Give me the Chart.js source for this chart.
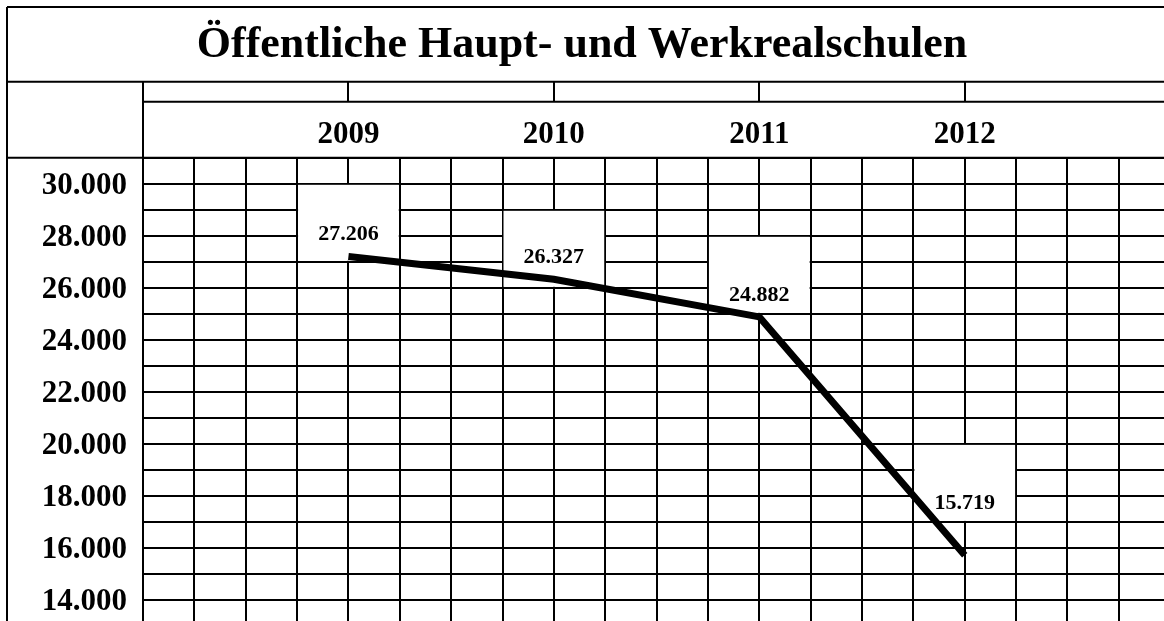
<!DOCTYPE html>
<html>
<head>
<meta charset="utf-8">
<script src="https://cdn.jsdelivr.net/npm/chart.js@4/dist/chart.umd.min.js"></script>
<style>
  body { margin: 0; overflow: hidden; background: #fff; }
  #wrap { position: relative; width: 1164px; height: 621px; }
</style>
</head>
<body>
<div id="wrap"><canvas id="chart"></canvas></div>
<script>
const years = [2009, 2010, 2011, 2012];
const pupils = [27206, 26327, 24882, 15719];
const titleText = 'Öffentliche Haupt- und Werkrealschulen';

const serif = 'Liberation Serif';
const frameInset = 7;
const labelFont = 'bold 22px "' + serif + '"';

function fmt(v) {
    return String(v).replace(/\B(?=(\d{3})+(?!\d))/g, '.');
}

// grid lines on round steps, even though the table is cut off at odd values
function stepTicks(step) {
    return function (scale) {
        const ticks = [];
        const first = Math.ceil(scale.min / step - 1e-9) * step;
        for (let v = first; v <= scale.max + 1e-9; v += step) {
            ticks.push({ value: Math.round(v * 100) / 100 });
        }
        scale.ticks = ticks;
    };
}

// value label above each point, lifted until it clears the line on both sides
function labelBoxes(chart) {
    const ctx = chart.ctx;
    const pts = chart.getDatasetMeta(0).data;
    const xs = chart.scales.x;
    const ys = chart.scales.y;
    const rows = ys.ticks.map(t => ys.getPixelForValue(t.value)).sort((a, b) => a - b);
    ctx.save();
    ctx.font = labelFont;
    const out = pts.map((pt, i) => {
        const text = fmt(pupils[i]);
        const halfW = ctx.measureText(text).width / 2 + 2;
        let lift = 22;
        [pts[i - 1], pts[i + 1]].forEach(nb => {
            if (!nb) return;
            const dx = Math.abs(nb.x - pt.x);
            const edgeY = pt.y + (nb.y - pt.y) * Math.min(1, halfW / dx);
            lift = Math.max(lift, pt.y - (edgeY - 15));
        });
        const ty = pt.y - lift;
        let bi = rows.findIndex(p => p >= ty + 10);
        if (bi < 3) bi = 3;
        return {
            tx: pt.x,
            ty: ty,
            left: xs.getPixelForValue(years[i] - 0.25),
            right: xs.getPixelForValue(years[i] + 0.25),
            top: rows[bi - 3],
            bottom: rows[bi],
            text: text
        };
    });
    ctx.restore();
    return out;
}

const valueLabels = {
    id: 'valueLabels',
    beforeDatasetsDraw(chart) {
        const ctx = chart.ctx;
        ctx.save();
        ctx.fillStyle = '#fff';
        labelBoxes(chart).forEach(b => {
            ctx.fillRect(b.left + 1, b.top + 1, b.right - b.left - 2, b.bottom - b.top - 2);
        });
        ctx.restore();
    },
    afterDatasetsDraw(chart) {
        const ctx = chart.ctx;
        ctx.save();
        ctx.fillStyle = '#000';
        ctx.font = labelFont;
        ctx.textAlign = 'center';
        ctx.textBaseline = 'middle';
        labelBoxes(chart).forEach(b => ctx.fillText(b.text, b.tx, b.ty));
        ctx.restore();
    }
};

// table frame around title, header row and left column
const tableFrame = {
    id: 'tableFrame',
    afterDraw(chart) {
        const ctx = chart.ctx;
        const xs = chart.scales.x;
        const area = chart.chartArea;
        const t = chart.titleBlock;
        const left = frameInset;
        const right = chart.width;
        const sub = xs.top + 20;
        ctx.save();
        ctx.strokeStyle = '#000';
        ctx.lineWidth = 2;
        ctx.beginPath();
        ctx.moveTo(left, t.top); ctx.lineTo(right, t.top);
        ctx.moveTo(left, t.top); ctx.lineTo(left, chart.height);
        ctx.moveTo(left, xs.top); ctx.lineTo(right, xs.top);
        ctx.moveTo(left, area.top); ctx.lineTo(right, area.top);
        ctx.moveTo(area.left, xs.top); ctx.lineTo(area.left, area.top);
        ctx.moveTo(area.left, sub); ctx.lineTo(right, sub);
        years.forEach(y => {
            const px = Math.round(xs.getPixelForValue(y));
            ctx.moveTo(px, xs.top); ctx.lineTo(px, sub);
        });
        ctx.stroke();
        ctx.restore();
    }
};

function noEdgePadding(scale) {
    scale.paddingTop = 0;
    scale.paddingBottom = 0;
    scale.paddingLeft = 0;
    scale.paddingRight = 0;
}

new Chart(document.getElementById('chart'), {
    type: 'line',
    data: {
        datasets: [{
            data: years.map((y, i) => ({ x: y, y: pupils[i] })),
            borderColor: '#000',
            borderWidth: 7,
            borderJoinStyle: 'miter',
            pointRadius: 0,
            tension: 0,
            fill: false
        }]
    },
    options: {
        responsive: true,
        maintainAspectRatio: false,
        animation: false,
        layout: { padding: { left: 0, top: 7, right: 0, bottom: 0 } },
        plugins: {
            legend: { display: false },
            tooltip: { enabled: false },
            title: {
                display: true,
                text: titleText,
                color: '#000',
                font: { family: serif, size: 44, weight: 'bold' },
                padding: { top: 12, bottom: 10 }
            }
        },
        scales: {
            x: {
                type: 'linear',
                position: 'top',
                bounds: 'data',
                min: 2008,
                max: 2012.97,
                afterBuildTicks: stepTicks(0.25),
                afterFit(scale) { scale.height = 76; noEdgePadding(scale); },
                border: { display: false },
                grid: { color: '#000', lineWidth: 2, drawTicks: false },
                ticks: {
                    autoSkip: false,
                    maxRotation: 0,
                    padding: 4,
                    color: '#000',
                    font: { family: serif, size: 31, weight: 'bold' },
                    callback: v => years.includes(v) ? String(v) : ''
                }
            },
            y: {
                bounds: 'data',
                min: 13190,
                max: 31000,
                afterBuildTicks: stepTicks(1000),
                afterFit(scale) { scale.width = 143; noEdgePadding(scale); },
                border: { display: false },
                grid: { color: '#000', lineWidth: 2, drawTicks: false },
                ticks: {
                    autoSkip: false,
                    padding: 16,
                    labelOffset: 2,
                    color: '#000',
                    font: { family: serif, size: 31, weight: 'bold' },
                    callback: v => v % 2000 === 0 ? fmt(v) : ''
                }
            }
        }
    },
    plugins: [valueLabels, tableFrame]
});
</script>
</body>
</html>
